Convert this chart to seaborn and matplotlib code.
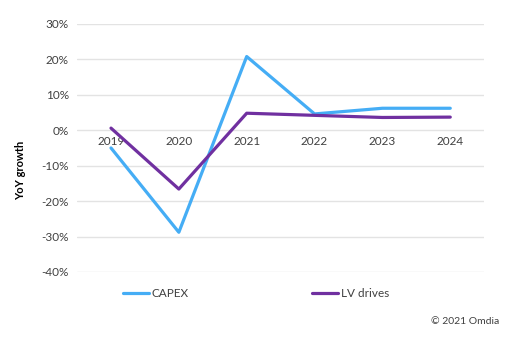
import matplotlib
matplotlib.use("Agg")
import matplotlib.pyplot as plt
import seaborn as sns
import pandas as pd
from matplotlib.ticker import PercentFormatter
from matplotlib.lines import Line2D

years = ["2019", "2020", "2021", "2022", "2023", "2024"]
capex = [-0.05, -0.288, 0.208, 0.046, 0.062, 0.062]
lv_drives = [0.006, -0.166, 0.048, 0.042, 0.036, 0.037]
series_names = ["CAPEX", "LV drives"]
colors = ["#45ADF5", "#7030A0"]

df = pd.DataFrame({
    "year": years * 2,
    "value": capex + lv_drives,
    "series": [series_names[0]] * len(years) + [series_names[1]] * len(years),
})

sns.set_style("white")
plt.rcParams["font.family"] = ["Lato", "DejaVu Sans"]
plt.rcParams["axes.unicode_minus"] = False

fig = plt.figure(figsize=(5.07, 3.37), dpi=100)
ax = fig.add_axes([0.152, 0.193, 0.803, 0.736])

sns.lineplot(data=df, x="year", y="value", hue="series", palette=colors,
             linewidth=2.3, ax=ax, sort=False, legend=False)

ax.set_xlim(-0.5, 5.5)
ax.set_ylim(-0.4, 0.3)
ax.set_yticks([-0.4, -0.3, -0.2, -0.1, 0, 0.1, 0.2, 0.3])
ax.yaxis.set_major_formatter(PercentFormatter(1.0, decimals=0))
ax.grid(axis="y", color="#E3E3E3", linewidth=1)
ax.set_axisbelow(True)
for s in ["top", "right", "left"]:
    ax.spines[s].set_visible(False)
ax.spines["bottom"].set_position(("data", 0))
ax.spines["bottom"].set_visible(False)
ax.tick_params(axis="both", length=0, labelsize=8.5, labelcolor="#404040")
ax.tick_params(axis="x", pad=4)
ax.tick_params(axis="y", pad=6)
ax.set_xlabel("")
ax.set_ylabel("")
fig.text(0.04, 0.495, "YoY growth", rotation=90, ha="center", va="center",
         fontsize=8, fontweight="bold", color="#000000")

handles = [Line2D([0], [0], color=c, lw=2.3) for c in colors]
fig.legend(handles, series_names, loc="center", bbox_to_anchor=(0.505, 0.128),
           ncol=2, frameon=False, fontsize=8.5, handlelength=2.2,
           handletextpad=0.2, columnspacing=10.5, labelcolor="#404040")

fig.text(0.985, 0.045, "© 2021 Omdia", ha="right", va="center", fontsize=7.5,
         color="#404040")

fig.savefig("out.png", dpi=100)
